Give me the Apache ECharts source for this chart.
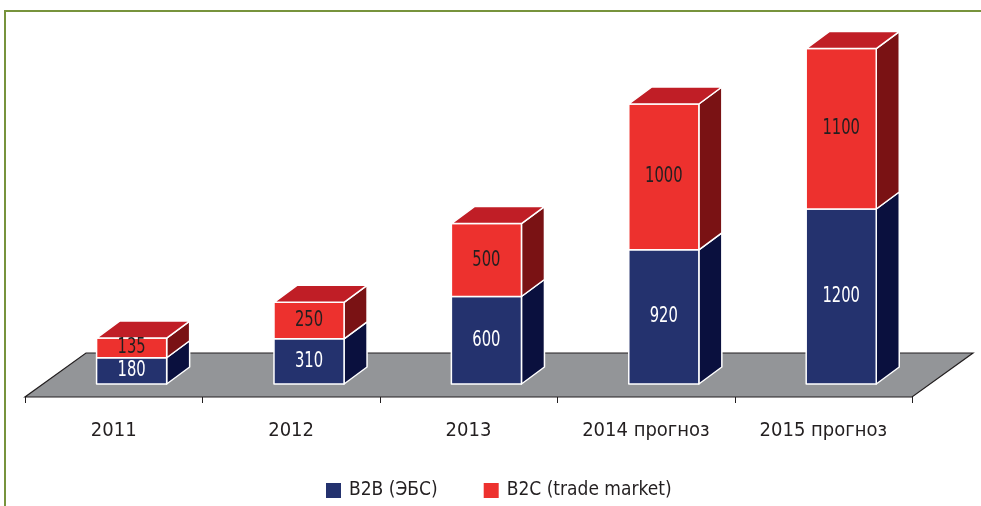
<!DOCTYPE html>
<html>
<head>
<meta charset="utf-8">
<script src="https://cdn.jsdelivr.net/npm/echarts@6/dist/echarts.min.js"></script>
<style>
html,body{margin:0;padding:0;background:#fff;}
#chart{width:981px;height:506px;}
</style>
</head>
<body>
<div id="chart"></div>
<script>
const categories = ['2011', '2012', '2013', '2014 прогноз', '2015 прогноз'];
const b2bValues = [180, 310, 600, 920, 1200];
const b2cValues = [135, 250, 500, 1000, 1100];
const seriesNames = ['B2B (ЭБС)', 'B2C (trade market)'];

const FONT = '"DejaVu Sans Condensed", "DejaVu Sans", sans-serif';
const TEXT = '#231f20';
const BAR_W = 0.395;      // fraction of band
const BAR_SHIFT = 0.101;  // fraction of band, 3D shift of front face
const DEPTH_X = 23, DEPTH_Y = 17;
const FLOOR_FRONT = 13, FLOOR_DX = 61, FLOOR_DY = 44, TICK_LEN = 6;

const palette = {
  b2b: { front: '#24326e', side: '#0a103e', top: '#1b2659' },
  b2c: { front: '#ed312e', side: '#7a1214', top: '#c01e26' }
};

function makeBarRenderer(pal, labelColor, isTop) {
  return function (params, api) {
    const i = api.value(0), lo = api.value(1), hi = api.value(2), lab = api.value(3);
    const pLo = api.coord([i, lo]);
    const pHi = api.coord([i, hi]);
    const bw = api.size([1, 0])[0];
    const w = bw * BAR_W;
    const x0 = pLo[0] + bw * BAR_SHIFT - w / 2;
    const x1 = x0 + w;
    const yb = pLo[1], yt = pHi[1];
    const stroke = { stroke: '#ffffff', lineWidth: 1.5, lineJoin: 'round' };
    const children = [
      { type: 'polygon', shape: { points: [[x1, yt], [x1 + DEPTH_X, yt - DEPTH_Y], [x1 + DEPTH_X, yb - DEPTH_Y], [x1, yb]] },
        style: Object.assign({ fill: pal.side }, stroke) },
      { type: 'rect', shape: { x: x0, y: yt, width: w, height: yb - yt },
        style: Object.assign({ fill: pal.front }, stroke) }
    ];
    if (isTop) {
      children.push({ type: 'polygon', shape: { points: [[x0, yt], [x1, yt], [x1 + DEPTH_X, yt - DEPTH_Y], [x0 + DEPTH_X, yt - DEPTH_Y]] },
        style: Object.assign({ fill: pal.top }, stroke) });
    }
    const cx = (x0 + x1) / 2, cy = (yb + yt) / 2;
    children.push({ type: 'text', x: cx, y: cy, scaleX: 0.82, scaleY: 1.05,
      style: { text: String(lab), x: 0, y: 0,
      align: 'center', verticalAlign: 'middle', fill: labelColor, font: '20px ' + FONT } });
    return { type: 'group', children: children };
  };
}

const b2bData = categories.map((c, i) => [i, 0, b2bValues[i], b2bValues[i]]);
const b2cData = categories.map((c, i) => [i, b2bValues[i], b2bValues[i] + b2cValues[i], b2cValues[i]]);

const chart = echarts.init(document.getElementById('chart'), null, { renderer: 'canvas' });
chart.setOption({
  animation: false,
  backgroundColor: '#ffffff',
  graphic: [{
    type: 'rect', z: 100, silent: true,
    shape: { x: 5, y: 11, width: 1000, height: 600 },
    style: { fill: 'none', stroke: '#77933c', lineWidth: 2 }
  }],
  grid: { left: 25, right: 69, top: 34, bottom: 122 },
  xAxis: {
    type: 'category', data: categories, offset: FLOOR_FRONT, boundaryGap: true,
    axisLine: { show: false },
    axisTick: { show: false },
    axisLabel: { margin: 24, color: TEXT, fontSize: 20, fontFamily: FONT },
    splitLine: { show: false }
  },
  yAxis: { type: 'value', min: 0, max: 2400, show: false },
  legend: {
    data: seriesNames, left: 321, top: 476, itemGap: 46, icon: 'rect',
    itemWidth: 15, itemHeight: 15,
    textStyle: { color: TEXT, fontSize: 19, fontFamily: FONT, padding: [0, 0, 0, 3] }
  },
  series: [
    {
      type: 'custom', name: 'floor', clip: false, silent: true, z: 1,
      data: [[0, 0]],
      encode: { x: 0, y: 1 },
      renderItem: function (params, api) {
        const p0 = api.coord([0, 0]);
        const bw = api.size([1, 0])[0];
        const left = p0[0] - bw / 2, right = left + bw * categories.length;
        const yf = p0[1] + FLOOR_FRONT;
        const children = [{ type: 'polygon', shape: { points: [[left, yf], [right, yf], [right + FLOOR_DX, yf - FLOOR_DY], [left + FLOOR_DX, yf - FLOOR_DY]] },
          style: { fill: '#939598', stroke: TEXT, lineWidth: 1.2 } }];
        for (let k = 0; k <= categories.length; k++) {
          const x = Math.round(left + k * bw) + 0.5;
          children.push({ type: 'line', shape: { x1: x, y1: yf, x2: x, y2: yf + TICK_LEN },
            style: { stroke: TEXT, lineWidth: 1 } });
        }
        return { type: 'group', children: children };
      }
    },
    {
      type: 'custom', name: seriesNames[0], clip: false, z: 2,
      itemStyle: { color: palette.b2b.front },
      data: b2bData, encode: { x: 0, y: 2 },
      renderItem: makeBarRenderer(palette.b2b, '#ffffff', false)
    },
    {
      type: 'custom', name: seriesNames[1], clip: false, z: 3,
      itemStyle: { color: palette.b2c.front },
      data: b2cData, encode: { x: 0, y: 2 },
      renderItem: makeBarRenderer(palette.b2c, TEXT, true)
    }
  ]
});
</script>
</body>
</html>
